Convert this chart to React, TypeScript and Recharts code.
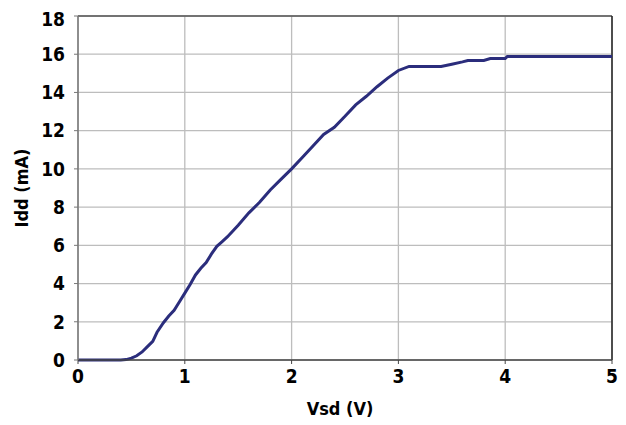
import React from "react";
import { LineChart, Line, XAxis, YAxis, CartesianGrid, ReferenceLine, Label } from "recharts";

const vsd = [0, 0.1, 0.2, 0.3, 0.4, 0.45, 0.5, 0.55, 0.6, 0.65, 0.7, 0.74, 0.8, 0.85, 0.9, 0.95, 1.0, 1.05, 1.1, 1.15, 1.2, 1.25, 1.3, 1.35, 1.4, 1.5, 1.6, 1.7, 1.8, 1.9, 2.0, 2.1, 2.2, 2.3, 2.4, 2.5, 2.6, 2.7, 2.8, 2.9, 3.0, 3.1, 3.2, 3.3, 3.4, 3.5, 3.6, 3.65, 3.8, 3.86, 4.0, 4.02, 5.0];
const idd = [0, 0, 0, 0, 0, 0.02, 0.1, 0.22, 0.42, 0.7, 0.98, 1.45, 1.95, 2.3, 2.6, 3.05, 3.5, 3.95, 4.45, 4.8, 5.1, 5.55, 5.95, 6.2, 6.45, 7.05, 7.7, 8.25, 8.9, 9.45, 10.0, 10.6, 11.2, 11.8, 12.18, 12.75, 13.35, 13.8, 14.3, 14.75, 15.15, 15.36, 15.36, 15.36, 15.36, 15.48, 15.6, 15.67, 15.67, 15.77, 15.77, 15.88, 15.88];
const xTicks = [0, 1, 2, 3, 4, 5];
const yTicks = [0, 2, 4, 6, 8, 10, 12, 14, 16, 18];
const xLabel = "Vsd (V)";
const yLabel = "Idd (mA)";

const data = vsd.map((v, i) => ({ v, i: idd[i] }));

const FONT = "'Liberation Sans Narrow', 'DejaVu Sans Condensed', 'Arial Narrow', sans-serif";
const tickStyle = { fontFamily: FONT, fontWeight: 700, fontSize: 19, fill: "#000" };

export default function App() {
  return (
    <div style={{ width: 618, height: 417 }}>
      <LineChart width={618} height={417} data={data} margin={{ top: 8, right: 14, bottom: 0, left: 0 }}>
        <CartesianGrid stroke="#bdbdbd" strokeWidth={1.3} />
        <XAxis
          dataKey="v"
          type="number"
          domain={[0, 5]}
          ticks={xTicks}
          height={65}
          tick={tickStyle}
          tickSize={4}
          tickMargin={6}
          axisLine={{ stroke: "#444", strokeWidth: 1.5 }}
          tickLine={{ stroke: "#444" }}
        >
          <Label
            content={(props: any) => {
              const vb = props.viewBox;
              return (
                <text x={vb.x + vb.width / 2 - 5} y={vb.y + 55} textAnchor="middle" style={{ fontFamily: FONT, fontWeight: 700, fontSize: 18 }} fill="#000">
                  {xLabel}
                </text>
              );
            }}
          />
        </XAxis>
        <YAxis
          type="number"
          domain={[0, 18]}
          ticks={yTicks}
          width={70}
          tick={tickStyle}
          tickSize={4}
          tickMargin={9}
          axisLine={{ stroke: "#777", strokeWidth: 1.5 }}
          tickLine={{ stroke: "#777" }}
        >
          <Label
            content={(props: any) => {
              const vb = props.viewBox;
              const x = vb.x + 20;
              const y = vb.y + vb.height / 2;
              return (
                <text x={x} y={y} textAnchor="middle" transform={`rotate(-90, ${x}, ${y})`} style={{ fontFamily: FONT, fontWeight: 700, fontSize: 18 }} fill="#000">
                  {yLabel}
                </text>
              );
            }}
          />
        </YAxis>
        <ReferenceLine y={18} stroke="#555" strokeWidth={1.5} />
        <ReferenceLine x={5} stroke="#222" strokeWidth={1.5} />
        <Line type="linear" dataKey="i" stroke="#2b2d7c" strokeWidth={3} dot={false} isAnimationActive={false} />
      </LineChart>
    </div>
  );
}
